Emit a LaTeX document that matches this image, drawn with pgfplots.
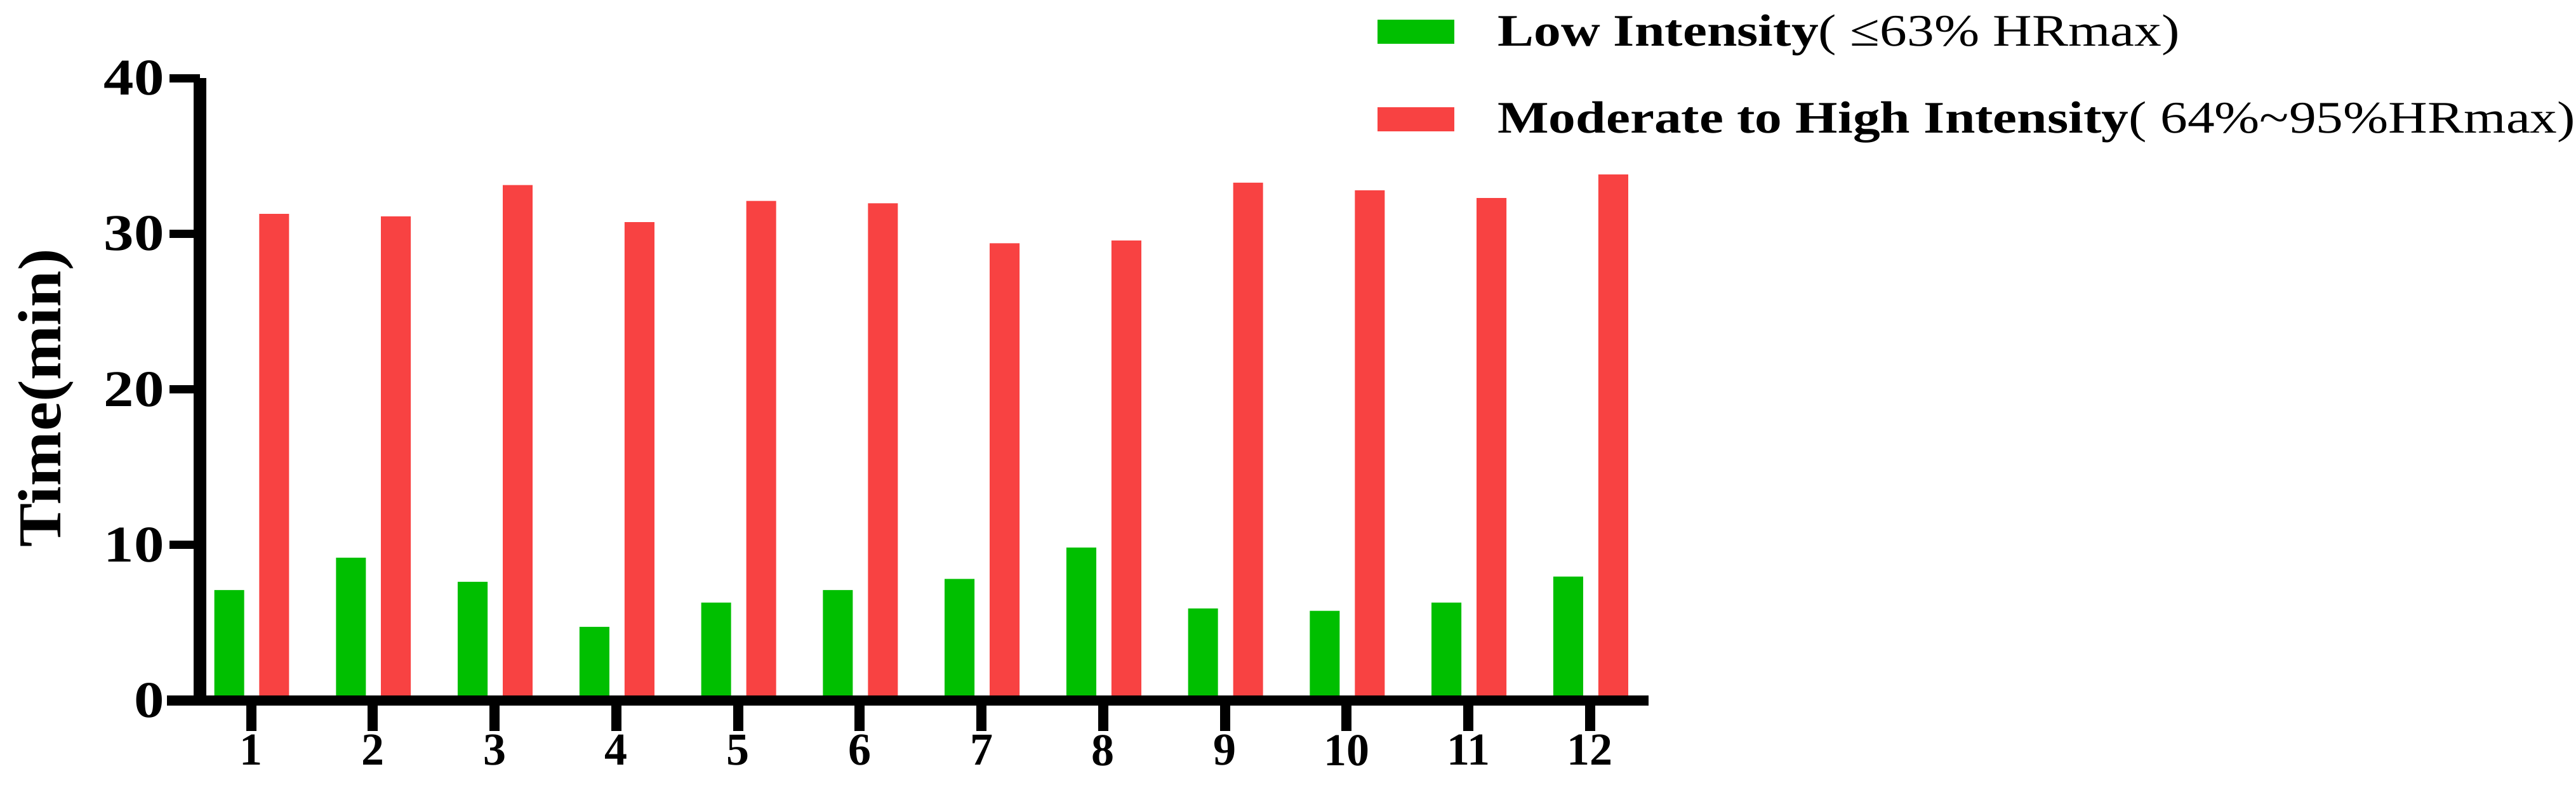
\documentclass[border=0pt]{standalone}
\usepackage{fontspec}
\setmainfont{Liberation Serif}
\usepackage{pgfplots}
\pgfplotsset{compat=1.18}
\definecolor{lowgreen}{RGB}{0,191,0}
\definecolor{highred}{RGB}{248,66,66}
\begin{document}
\begin{tikzpicture}
\path[use as bounding box] (-78.75pt,-35pt) rectangle (935.75pt,276pt);
\begin{axis}[
  at={(0,0)}, anchor=south west,
  scale only axis, width=570.5pt, height=245.25pt,
  xmin=0.58, xmax=12.48, ymin=0, ymax=40,
  axis lines=left,
  axis on top,
  x axis line style={-, line width=4pt, shorten <=-13pt},
  y axis line style={-, line width=5pt},
  xtick={1,2,3,4,5,6,7,8,9,10,11,12},
  ytick={0,10,20,30,40},
  tick align=outside,
  major tick length=12pt,
  xtick style={line width=4pt, black},
  ytick style={line width=3.25pt, black},
  /pgf/number format/assume math mode=true,
  xticklabel style={font=\fontsize{18}{18}\selectfont\bfseries, yshift=2pt},
  yticklabel style={font=\fontsize{20.3}{20.3}\selectfont\bfseries, xshift=1.5pt},
  yticklabel={\scalebox{1.17}[1]{\pgfmathprintnumber{\tick}}},
  ylabel={\scalebox{1.08}[1]{Time(min)}},
  ylabel style={font=\fontsize{24}{24}\selectfont\bfseries, at={(axis description cs:-0.1065,0.486)}, anchor=center},
  legend cell align=left,
  legend image code/.code={\fill[#1] (0pt,-4.75pt) rectangle (30.25pt,4.75pt);},
  legend style={draw=none, fill=none, at={(0.813,1.004)}, anchor=west, inner sep=0pt, outer sep=0pt,
    font=\fontsize{17.8}{17.8}\selectfont, row sep=20.5pt, nodes={inner sep=0pt},
    /tikz/every odd column/.append style={column sep=17pt}},
]
\addplot[ybar, fill=lowgreen, draw=none, bar width=0.245, bar shift=-0.18] coordinates {
  (1,7.10) (2,9.18) (3,7.63) (4,4.74) (5,6.29) (6,7.10) (7,7.81) (8,9.83) (9,5.92) (10,5.77) (11,6.29) (12,7.97)
};
\addlegendentry{\scalebox{1.2}[1]{\textbf{Low Intensity}( ≤63\% HRmax)}}
\addplot[ybar, fill=highred, draw=none, bar width=0.245, bar shift=0.19] coordinates {
  (1,31.27) (2,31.11) (3,33.12) (4,30.74) (5,32.11) (6,31.95) (7,29.38) (8,29.56) (9,33.28) (10,32.79) (11,32.29) (12,33.81)
};
\addlegendentry{\scalebox{1.2}[1]{\textbf{Moderate to High Intensity}( 64\%\textasciitilde95\%HRmax)}}
\end{axis}
\end{tikzpicture}
\end{document}
